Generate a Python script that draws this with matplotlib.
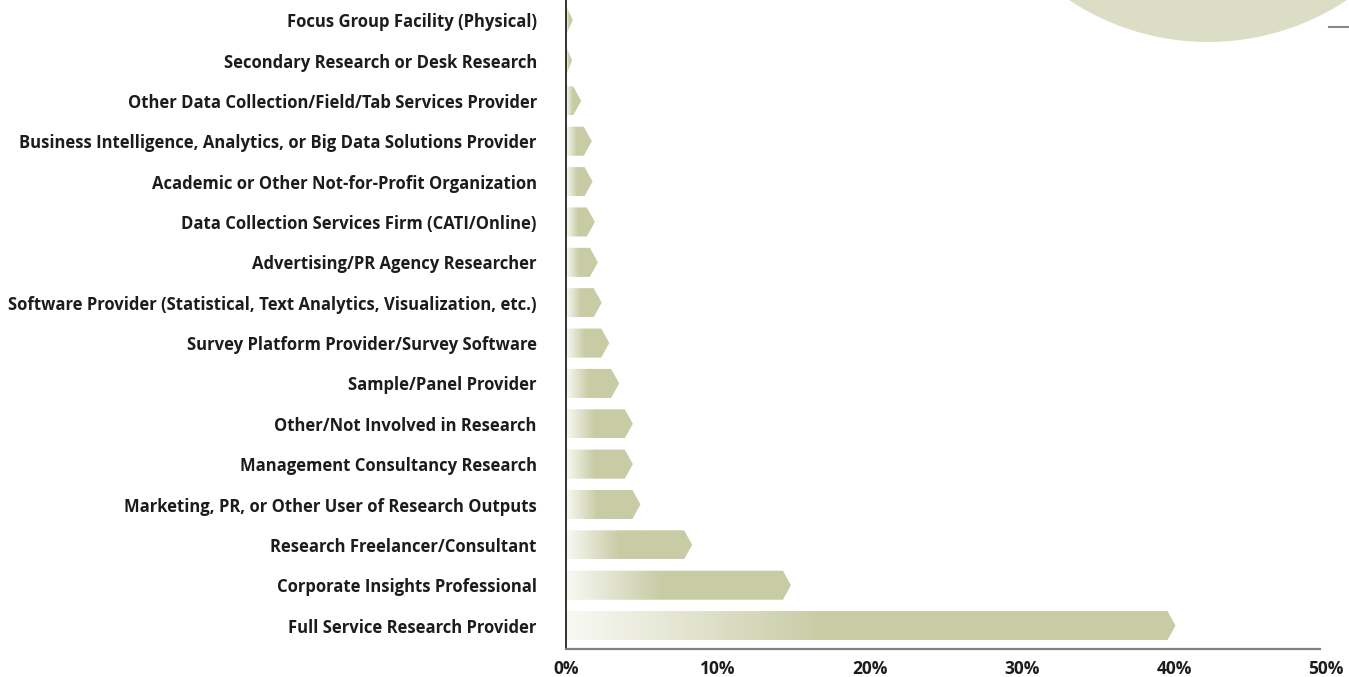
import matplotlib.pyplot as plt
import numpy as np
from matplotlib.patches import Polygon, Ellipse
from matplotlib.lines import Line2D
from matplotlib.colors import to_rgb

# Data (bottom to top)
categories = [
    "Full Service Research Provider",
    "Corporate Insights Professional",
    "Research Freelancer/Consultant",
    "Marketing, PR, or Other User of Research Outputs",
    "Management Consultancy Research",
    "Other/Not Involved in Research",
    "Sample/Panel Provider",
    "Survey Platform Provider/Survey Software",
    "Software Provider (Statistical, Text Analytics, Visualization, etc.)",
    "Advertising/PR Agency Researcher",
    "Data Collection Services Firm (CATI/Online)",
    "Academic or Other Not-for-Profit Organization",
    "Business Intelligence, Analytics, or Big Data Solutions Provider",
    "Other Data Collection/Field/Tab Services Provider",
    "Secondary Research or Desk Research",
    "Focus Group Facility (Physical)",
]
values = [40.1, 14.8, 8.3, 4.9, 4.4, 4.4, 3.5, 2.85, 2.35, 2.1, 1.9, 1.75, 1.7, 1.0, 0.4, 0.45]
xticks = [0, 10, 20, 30, 40, 50]
xtick_labels = ["0%", "10%", "20%", "30%", "40%", "50%"]

W, H = 1349, 677
plt.rcParams["font.family"] = ["Open Sans", "DejaVu Sans"]
fig = plt.figure(figsize=(W / 100, H / 100), dpi=100)

# axes placed so that 0% sits at x=566 px and 50% at x=1326 px
ax = fig.add_axes([566 / W, (H - 649) / H, 760 / W, 649 / H])

bar_col = np.array(to_rgb("#c8cca5"))
start_col = np.array(to_rgb("#f9f9f4"))
bar_h = 0.72
tip = 0.53  # arrow tip depth in data units
grad_frac = 0.42

for i, v in enumerate(values):
    flat = max(0.0, v - tip)
    poly = Polygon([(0, i - bar_h / 2), (flat, i - bar_h / 2), (v, i),
                    (flat, i + bar_h / 2), (0, i + bar_h / 2)],
                   closed=True, facecolor="none", edgecolor="none")
    ax.add_patch(poly)
    t = np.linspace(0, 1, 256)
    f = np.clip(t / grad_frac, 0, 1)
    img = start_col[None, :] + (bar_col - start_col)[None, :] * f[:, None]
    im = ax.imshow(img[None, :, :], extent=[0, v, i - bar_h / 2, i + bar_h / 2],
                   aspect="auto", interpolation="bilinear", zorder=2)
    im.set_clip_path(poly)

ax.set_xlim(0, 50)
ax.set_ylim(-0.58, len(categories) - 0.5)

ax.set_yticks(range(len(categories)))
ax.set_yticklabels(categories, fontsize=12, fontweight="bold", color="#1c1c1c")
ax.set_xticks(xticks)
ax.set_xticklabels(xtick_labels, fontsize=12.5, fontweight="bold", color="#1c1c1c")
ax.tick_params(axis="y", length=0, pad=21)
ax.tick_params(axis="x", length=0, pad=8)

for s in ["top", "right"]:
    ax.spines[s].set_visible(False)
ax.spines["left"].set_color("#222222")
ax.spines["left"].set_linewidth(1.3)
ax.spines["bottom"].set_color("#808080")
ax.spines["bottom"].set_linewidth(1.6)
ax.spines["bottom"].set_bounds(0, 49.6)

# decorative circle in the top-right corner
circ = Ellipse((1208 / W, (H + 209) / H), width=502 / W, height=502 / H,
               transform=fig.transFigure, facecolor="#dcddc5", edgecolor="none", zorder=0)
fig.patches.append(circ)
fig.lines.append(Line2D([1329 / W, 1.0], [(H - 27) / H] * 2, transform=fig.transFigure,
                        color="#888888", linewidth=1.5))

fig.savefig("out.png", dpi=100)
